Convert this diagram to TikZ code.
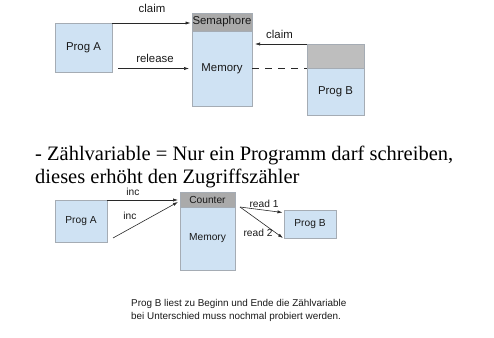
\documentclass[tikz,border=0pt]{standalone}
\usepackage{fontspec}
\setmainfont{Liberation Serif}
\newfontfamily\arialfont{Liberation Sans}
\usepackage{tikz}
\usetikzlibrary{arrows.meta, positioning, calc}
\definecolor{progblue}{RGB}{207,226,243}
\definecolor{boxline}{RGB}{165,172,180}
\definecolor{headgrey}{RGB}{170,170,170}
\definecolor{topgrey}{RGB}{190,190,190}
\definecolor{arrgrey}{RGB}{40,40,40}

\begin{document}
\begin{tikzpicture}[
  x=1pt, y=-1pt,
  every node/.style={font=\arialfont\fontsize{11.4}{13}\selectfont, text=black!90},
  box/.style   ={draw=boxline, line width=0.8pt, fill=progblue, outer sep=0pt,
                 inner sep=0pt, align=center},
  headbox/.style={draw=boxline, line width=0.8pt, fill=headgrey, outer sep=0pt,
                 inner sep=0pt, align=center},
  small/.style ={font=\arialfont\fontsize{10.2}{12}\selectfont},
  arr/.style={-{Latex[length=5pt,width=3.2pt]}, line width=0.6pt, draw=arrgrey},
]
\useasboundingbox (0,0) rectangle (494,337);

% --- Semaphore
\node[box, minimum width=57pt, minimum height=49pt] (progA) at (83.5,47.5) {Prog A};
\node[headbox, minimum width=60pt, minimum height=18pt] (sem) at (222,22) {Semaphore};
\node[box, minimum width=60pt, minimum height=75pt, below=0pt of sem] (mem) {Memory};
\node[headbox, fill=topgrey, minimum width=57pt, minimum height=24pt] (lockB) at (335.5,56) {};
\node[box, minimum width=57pt, minimum height=47pt, below=0pt of lockB] (progB) {Prog B};
\coordinate (relA) at (118,68.5);

\draw[arr, shorten >=1.5pt] (progA.north east) -- node[above=7pt]{claim} (progA.north east -| sem.west);
\draw[arr, shorten >=3pt] (relA) -- node[above=2pt]{release} (mem.west);
\draw[arr, shorten >=3pt] (lockB.north west) -- node[above=2pt]{claim} (lockB.north west -| mem.east);
\draw[arrgrey, line width=0.6pt, dash pattern=on 7pt off 6pt] (mem.east) -- (mem.east -| progB.west);

% --- Zaehlvariable
\node[anchor=north west, inner sep=0pt, align=left, text=black,
      font=\fontsize{20.5}{23}\selectfont] (txt) at (35,146)
      {- Zählvariable = Nur ein Programm darf schreiben,\\dieses erhöht den Zugriffszähler};

\node[box, small, minimum width=52pt, minimum height=42pt] (progA2) at (81,221) {Prog A};
\node[headbox, small, minimum width=55pt, minimum height=15pt] (cnt) at (207.5,199.5) {Counter};
\node[box, small, minimum width=55pt, minimum height=63pt, below=0pt of cnt] (mem2) {Memory};
\node[box, small, minimum width=52pt, minimum height=28pt] (progB2) at (310,224) {Prog B};
\coordinate (incA) at (113,238);
\coordinate (cntA) at (178,200);
\coordinate (cntB) at (178,202);
\coordinate (rdA) at (240,207);
\coordinate (rdB) at (282.5,212.5);
\coordinate (rdC) at (283,238);

\draw[arr] (progA2.north east) -- (cntA);
\draw[arr] (incA) -- (cntB);
\draw[arr] (rdA) -- (rdB);
\draw[arr] (rdA) -- (rdC);
\node[small] (inc1) at (133,192) {inc};
\node[small] (inc2) at (130,216) {inc};
\node[small] (rd1) at (264,204) {read 1};
\node[small] (rd2) at (258,233) {read 2};

\node[anchor=north west, inner sep=0pt, align=left,
      font=\arialfont\fontsize{9.9}{12.3}\selectfont] (note) at (131,299.5)
      {Prog B liest zu Beginn und Ende die Zählvariable\\bei Unterschied muss nochmal probiert werden.};

\end{tikzpicture}
\end{document}
